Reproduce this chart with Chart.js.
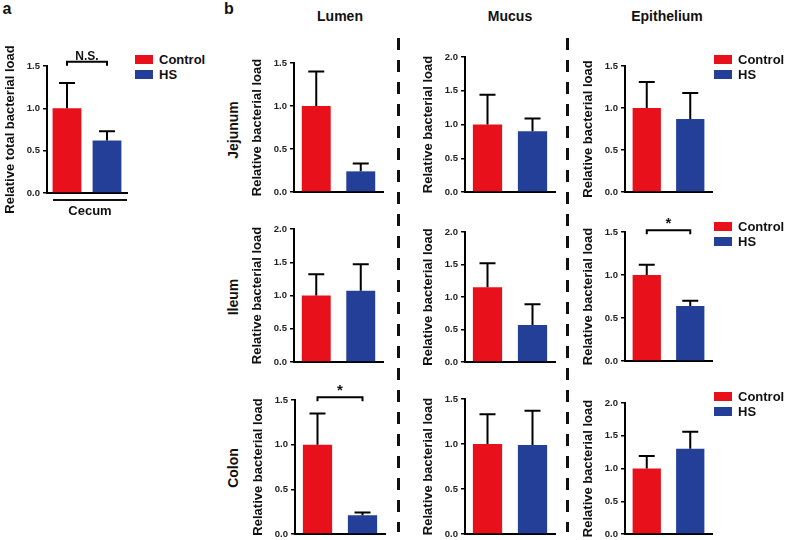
<!DOCTYPE html>
<html>
<head>
<meta charset="utf-8">
<script src="https://cdn.jsdelivr.net/npm/chart.js@4"></script>
<style>
  body { margin: 0; background: #fff; }
  #page { position: relative; width: 786px; height: 540px; overflow: hidden; font-family: "Liberation Sans", Arial, sans-serif; font-weight: bold; color: #111; }
  #page canvas { position: absolute; }
  .t { position: absolute; white-space: nowrap; line-height: 1; }
  .rot { transform: translate(-50%, -50%) rotate(-90deg); }
  .ctr { transform: translate(-50%, -50%); }
  .dash { position: absolute; width: 3px; background: repeating-linear-gradient(to bottom, #111 0 12px, transparent 12px 22px); }
  .sw { position: absolute; width: 18px; height: 9px; }
</style>
</head>
<body>
<div id="page"></div>
<script>
// groups + values (mean, SEM)
const groups = ['Control', 'HS'];

const cecum = [1.0, 0.62];
const cecumErr = [0.30, 0.11];

const lumenJejunum = [1.0, 0.24];
const lumenJejunumErr = [0.40, 0.09];
const mucusJejunum = [1.0, 0.90];
const mucusJejunumErr = [0.44, 0.19];
const epitheliumJejunum = [1.0, 0.87];
const epitheliumJejunumErr = [0.31, 0.31];

const lumenIleum = [1.0, 1.07];
const lumenIleumErr = [0.32, 0.40];
const mucusIleum = [1.15, 0.57];
const mucusIleumErr = [0.37, 0.32];
const epitheliumIleum = [1.0, 0.64];
const epitheliumIleumErr = [0.12, 0.06];

const lumenColon = [1.0, 0.21];
const lumenColonErr = [0.35, 0.03];
const mucusColon = [1.0, 0.99];
const mucusColonErr = [0.33, 0.38];
const epitheliumColon = [1.0, 1.30];
const epitheliumColonErr = [0.19, 0.26];

const RED = '#e8101b', BLUE = '#233f98';
const page = document.getElementById('page');

Chart.defaults.font.family = '"Liberation Sans", Arial, sans-serif';
Chart.defaults.font.weight = 'bold';

// upper SEM whiskers
const errorBars = {
  id: 'errorBars',
  afterDatasetsDraw(chart) {
    const ds = chart.data.datasets[0];
    const y = chart.scales.y, ctx = chart.ctx;
    ctx.save();
    ctx.strokeStyle = '#000';
    ctx.lineWidth = 2;
    chart.getDatasetMeta(0).data.forEach((bar, i) => {
      const top = y.getPixelForValue(ds.data[i] + ds.err[i]);
      ctx.beginPath();
      ctx.moveTo(bar.x, bar.y);
      ctx.lineTo(bar.x, top);
      ctx.moveTo(bar.x - 8, top);
      ctx.lineTo(bar.x + 8, top);
      ctx.stroke();
    });
    ctx.restore();
  }
};

// significance bracket above the two bars
function bracket(level, text, size) {
  return {
    id: 'bracket',
    afterDraw(chart) {
      const { x, y } = chart.scales, ctx = chart.ctx;
      const x0 = x.getPixelForValue(0), x1 = x.getPixelForValue(1);
      const yy = y.getPixelForValue(level);
      ctx.save();
      ctx.strokeStyle = '#000';
      ctx.lineWidth = 2;
      ctx.beginPath();
      ctx.moveTo(x0, yy + 4);
      ctx.lineTo(x0, yy);
      ctx.lineTo(x1, yy);
      ctx.lineTo(x1, yy + 4);
      ctx.stroke();
      ctx.fillStyle = '#111';
      ctx.font = 'bold ' + size + 'px "Liberation Sans", Arial, sans-serif';
      ctx.textAlign = 'center';
      ctx.textBaseline = 'alphabetic';
      ctx.fillText(text, (x0 + x1) / 2, yy - 2);
      ctx.restore();
    }
  };
}

function panel(box, means, err, max, title, extra = {}) {
  const YW = 44, PT = extra.pt || 24, XB = extra.xb || 12, PR = 4;
  const c = document.createElement('canvas');
  c.width = box.r - box.l + YW + PR;
  c.height = box.b - box.t + PT + XB;
  c.style.left = (box.l - YW) + 'px';
  c.style.top = (box.t - PT) + 'px';
  page.appendChild(c);

  const plugins = [errorBars];
  if (extra.sig) plugins.push(bracket(extra.sig[0], extra.sig[1], extra.sig[2]));

  new Chart(c, {
    type: 'bar',
    data: {
      labels: groups,
      datasets: [{
        data: means,
        err: err,
        backgroundColor: [RED, BLUE],
        borderWidth: 0,
        barPercentage: extra.bp || 0.65,
        categoryPercentage: 1
      }]
    },
    options: {
      responsive: false,
      animation: false,
      layout: { padding: { top: PT, right: PR, left: 0, bottom: 0 } },
      plugins: { legend: { display: false }, tooltip: { enabled: false } },
      scales: {
        x: {
          grid: { display: false },
          ticks: { display: false },
          border: { color: '#000', width: 2 },
          afterFit(s) { s.height = XB; }
        },
        y: {
          min: 0,
          max: max,
          ticks: { stepSize: 0.5, padding: 3, color: '#222', font: { size: 9.5, weight: 'bold' }, callback: v => v.toFixed(1) },
          grid: { drawOnChartArea: false, tickLength: 4, color: '#000', lineWidth: 1.5 },
          border: { color: '#000', width: 2 },
          title: { display: true, text: title, color: '#111', font: { size: 13, weight: 'bold' }, padding: 0 },
          afterFit(s) { s.width = YW; }
        }
      }
    },
    plugins: plugins
  });
}

function text(str, x, y, size, cls) {
  const d = document.createElement('div');
  d.className = 't ' + (cls || 'ctr');
  d.textContent = str;
  d.style.left = x + 'px';
  d.style.top = y + 'px';
  d.style.fontSize = size + 'px';
  page.appendChild(d);
}

function legend(x, y) {
  [[RED, 'Control'], [BLUE, 'HS']].forEach(([col, lab], i) => {
    const s = document.createElement('div');
    s.className = 'sw';
    s.style.left = x + 'px';
    s.style.top = (y + i * 15) + 'px';
    s.style.background = col;
    page.appendChild(s);
    const t = document.createElement('div');
    t.className = 't';
    t.textContent = lab;
    t.style.left = (x + 24) + 'px';
    t.style.top = (y + i * 15 - 2) + 'px';
    t.style.fontSize = '13px';
    page.appendChild(t);
  });
}

function dashLine(x, y0, y1) {
  const d = document.createElement('div');
  d.className = 'dash';
  d.style.left = x + 'px';
  d.style.top = y0 + 'px';
  d.style.height = (y1 - y0) + 'px';
  page.appendChild(d);
}

const yTitle = 'Relative bacterial load';

// panel a
panel({ l: 47, t: 66, r: 127, b: 193 }, cecum, cecumErr, 1.5, 'Relative total bacterial load', { bp: 0.72, xb: 26, pt: 28, sig: [1.55, 'N.S.', 12] });
legend(135, 55);
const cline = document.createElement('div');
cline.style.cssText = 'position:absolute;left:53px;top:199px;width:74px;height:2px;background:#111;';
page.appendChild(cline);
text('Cecum', 90, 210, 13);
text('a', 7, 9, 16);

// panel b
text('b', 229, 9, 16);
text('Lumen', 340, 16, 14);
text('Mucus', 510, 16, 14);
text('Epithelium', 667, 16, 14);

text('Jejunum', 233, 130, 14, 'rot');
text('Ileum', 233, 297, 14, 'rot');
text('Colon', 233, 468, 14, 'rot');

dashLine(397, 38, 532);
dashLine(566, 38, 532);

panel({ l: 294, t: 63, r: 383, b: 192 }, lumenJejunum, lumenJejunumErr, 1.5, yTitle);
panel({ l: 465, t: 57, r: 555, b: 192 }, mucusJejunum, mucusJejunumErr, 2.0, yTitle);
panel({ l: 625, t: 66, r: 712, b: 192 }, epitheliumJejunum, epitheliumJejunumErr, 1.5, yTitle);
legend(714, 55);

panel({ l: 294, t: 229, r: 383, b: 362 }, lumenIleum, lumenIleumErr, 2.0, yTitle);
panel({ l: 465, t: 232, r: 555, b: 362 }, mucusIleum, mucusIleumErr, 2.0, yTitle);
panel({ l: 625, t: 232, r: 712, b: 361 }, epitheliumIleum, epitheliumIleumErr, 1.5, yTitle, { sig: [1.52, '*', 15] });
legend(714, 222);

panel({ l: 295, t: 400, r: 385, b: 534 }, lumenColon, lumenColonErr, 1.5, yTitle, { sig: [1.53, '*', 15] });
panel({ l: 465, t: 399, r: 555, b: 534 }, mucusColon, mucusColonErr, 1.5, yTitle);
panel({ l: 625, t: 403, r: 712, b: 534 }, epitheliumColon, epitheliumColonErr, 2.0, yTitle);
legend(714, 392);
</script>
</body>
</html>
